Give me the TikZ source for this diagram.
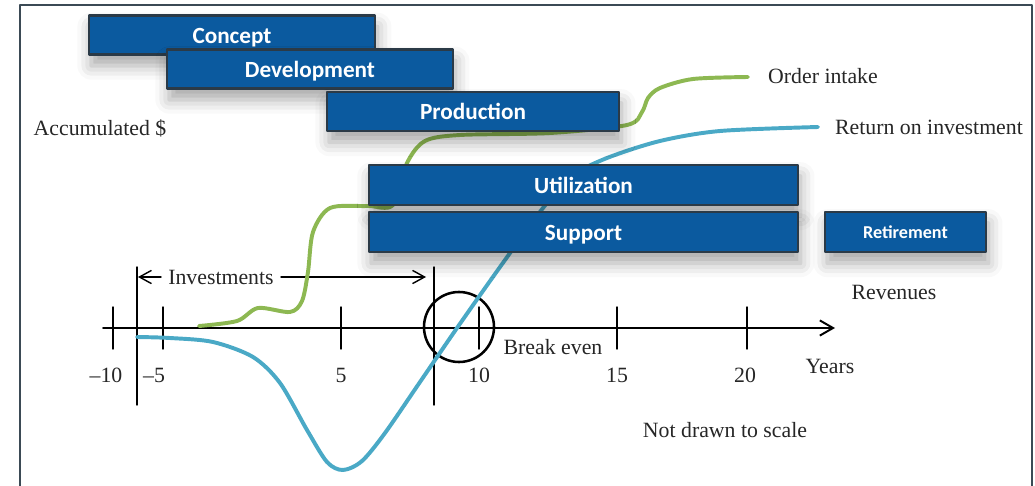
\documentclass[tikz,border=0pt]{standalone}
\usepackage{fontspec}
\setmainfont{Liberation Serif}
\newfontfamily\boxfont{Carlito}
\usepackage{xcolor}
\usepackage{tikz}
\usetikzlibrary{positioning,arrows.meta,shadows.blur}

\begin{document}
\begin{tikzpicture}[
	x=0.025cm, y=-0.025cm,
	font=\fontsize{15.5}{17}\selectfont,
	>={Straight Barb[length=3mm, width=3.3mm]},
	line cap=round,
	line join=round
	]
	% colours
	\definecolor{phBlue}{HTML}{0B5A9F}
	\definecolor{phEdge}{HTML}{2B3A47}
	\definecolor{roiBlue}{HTML}{4AA9C6}
	\definecolor{ordGreen}{HTML}{8DB852}
	\definecolor{frameGray}{HTML}{3B4A55}
	
	% styles
	\tikzset{
		phase/.style={rectangle, fill=phBlue, draw=phEdge, line width=2pt,
			text=white, font=\boxfont\bfseries\fontsize{16.5}{18}\selectfont,
			text height=12pt, text depth=0.5pt,
			minimum width=7.15cm, minimum height=0.975cm, inner sep=0pt,
			blur shadow={shadow xshift=0.6mm, shadow yshift=-2.8mm,
				shadow blur radius=3.5mm, shadow opacity=35}},
		lbl/.style={text=black!85, inner sep=2pt},
		curve/.style={line width=2.8pt, smooth, tension=0.5}
	}
	
	\useasboundingbox (0,0) rectangle (1035,486);
	
	% ===== frame =====
	\draw[frameGray, line width=1.4pt] (20,495) -- (20,5) -- (1032,5) -- (1032,495);
	
	% ===== time axis =====
	\coordinate (axL) at (103,328);
	\coordinate (axR) at (835,328);
	\draw[line width=1.4pt, -{Straight Barb[length=3.3mm, width=3.8mm]}] (axL) -- (axR);
	
	\foreach \x/\lx/\lab in {113/106/–10, 163/154/–5, 341/341/5, 479/479/10, 617/617/15, 747/745/20}{
		\draw[line width=1pt] (\x,307) -- (\x,349);
		\node[lbl] at (\lx,375) {\lab};
	}
	
	% start of investment and break even lines
	\draw[line width=1pt] (137,267) -- (137,405);
	\draw[line width=1pt] (434,267) -- (434,405);
	\node[circle, draw, line width=1.8pt, minimum size=1.75cm, inner sep=0pt] (be) at (459,327) {};
	
	% investments arrow
	\node[lbl, inner sep=5pt] (inv) at (221,277) {Investments};
	\coordinate (invL) at (138,277);
	\coordinate (invR) at (426,277);
	\draw[<-, line width=1pt] (invL) -- (inv.west);
	\draw[->, line width=1pt] (inv.east) -- (invR);
	
	% ===== curves =====
	\draw[ordGreen, curve] plot coordinates {(199,326) (237,321) (258,308) (290,312) (302,301)
		(308,272) (313,232) (330,208) (367,206) (393,205) (407,163) (425,141) (460,135)
		(550,133) (627,125) (642,112) (648,98) (660,88) (693,79) (748,77)};
	\draw[roiBlue, curve] plot coordinates {(137,337) (170,338) (213,342) (253,357) (280,383)
		(307,430) (327,462) (343,470) (362,461) (385,433) (420,382) (457,328) (500,267)
		(543,208) (572,176) (607,158) (660,141) (720,131) (818,127)};
	
	% ===== phases =====
	\node[phase] (con) at (232,35) {Concept};
	\node[phase] (dev) at (310,69) {Development};
	\node[phase, minimum width=7.3cm] (pro) at (473,111.5) {Production};
	\node[phase, minimum width=10.725cm, minimum height=1cm] (uti) at (583.5,185) {Utilization};
	\node[phase, minimum width=10.725cm, minimum height=1cm] (sup) at (583.5,232) {Support};
	\node[phase, minimum width=4.025cm, minimum height=1cm, text height=9.5pt,
		font=\boxfont\bfseries\fontsize{12.9}{14}\selectfont] (ret) at (905.5,232) {Retirement};
	
	% ===== texts =====
	\node[lbl] (acc) at (100,128) {Accumulated \$};
	\node[lbl] (ord) at (823,76) {Order intake};
	\node[lbl] (roi) at (929,127) {Return on investment};
	\node[lbl] (rev) at (894,292) {Revenues};
	\node[lbl] (yrs) at (830,366) {Years};
	\node[lbl] (bev) at (553,347) {Break even};
	\node[lbl] (nds) at (725,430) {Not drawn to scale};
	
\end{tikzpicture}
\end{document}
